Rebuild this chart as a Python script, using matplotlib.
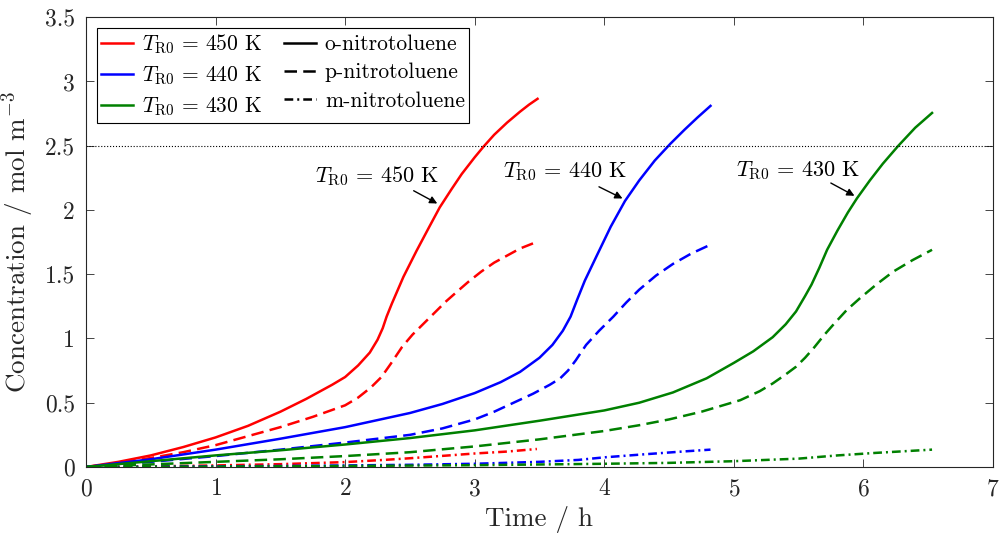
import matplotlib
matplotlib.use('Agg')
import matplotlib.pyplot as plt
from matplotlib.lines import Line2D

# time [h] and concentrations [mol m^-3]
# T_R0 = 450 K
t450_o = [0, 0.25, 0.5, 0.75, 1.0, 1.25, 1.5, 1.7, 1.9, 2.0, 2.1, 2.19, 2.25, 2.29, 2.32, 2.36, 2.45, 2.55, 2.65,
		  2.73, 2.82, 2.9, 3.0, 3.07, 3.15, 3.25, 3.35, 3.42, 3.485]
c450_o = [0, 0.04, 0.09, 0.155, 0.23, 0.32, 0.43, 0.53, 0.64, 0.70, 0.79, 0.89, 0.99, 1.08, 1.17, 1.27, 1.48, 1.68, 1.87,
		  2.02, 2.16, 2.28, 2.41, 2.495, 2.585, 2.68, 2.765, 2.82, 2.865]
t450_p = [0, 0.25, 0.5, 0.75, 1.0, 1.25, 1.5, 1.75, 2.0, 2.1, 2.2, 2.28, 2.35, 2.44, 2.52, 2.6, 2.7, 2.78,
		  2.87, 2.95, 3.05, 3.15, 3.25, 3.35, 3.45]
c450_p = [0, 0.03, 0.07, 0.115, 0.17, 0.24, 0.31, 0.39, 0.48, 0.54, 0.62, 0.70, 0.80, 0.935, 1.03, 1.11, 1.21, 1.29,
		  1.37, 1.44, 1.52, 1.59, 1.645, 1.70, 1.74]
t450_m = [0, 0.5, 1.0, 1.5, 2.0, 2.3, 2.5, 2.8, 3.0, 3.25, 3.48]
c450_m = [0, 0.005, 0.012, 0.022, 0.038, 0.055, 0.068, 0.09, 0.105, 0.12, 0.14]

# T_R0 = 440 K
t440_o = [0, 0.5, 1.0, 1.5, 2.0, 2.5, 2.75, 3.0, 3.2, 3.35, 3.5, 3.6, 3.68, 3.74, 3.79, 3.85, 3.94, 4.05,
		  4.16, 4.27, 4.39, 4.51, 4.62, 4.72, 4.82]
c440_o = [0, 0.06, 0.135, 0.22, 0.31, 0.42, 0.49, 0.575, 0.66, 0.74, 0.85, 0.95, 1.06, 1.17, 1.30, 1.45, 1.64, 1.87,
		  2.07, 2.23, 2.385, 2.515, 2.625, 2.72, 2.81]
t440_p = [0, 0.5, 1.0, 1.5, 2.0, 2.5, 2.75, 3.0, 3.15, 3.3, 3.45, 3.58, 3.66, 3.72, 3.78, 3.86, 3.96, 4.07,
		  4.17, 4.27, 4.4, 4.53, 4.67, 4.82]
c440_p = [0, 0.04, 0.085, 0.135, 0.19, 0.25, 0.30, 0.37, 0.43, 0.50, 0.57, 0.64, 0.69, 0.75, 0.83, 0.95, 1.06, 1.17,
		  1.28, 1.38, 1.49, 1.58, 1.66, 1.73]
t440_m = [0, 0.5, 1.0, 1.5, 2.0, 2.5, 3.0, 3.5, 3.8, 4.0, 4.3, 4.6, 4.82]
c440_m = [0, 0.002, 0.005, 0.008, 0.012, 0.017, 0.025, 0.04, 0.055, 0.075, 0.098, 0.12, 0.135]

# T_R0 = 430 K
t430_o = [0, 0.5, 1.0, 1.5, 2.0, 2.5, 3.0, 3.5, 4.0, 4.27, 4.53, 4.79, 5.0, 5.15, 5.3, 5.4, 5.48, 5.55,
		  5.6, 5.66, 5.72, 5.8, 5.88, 5.95, 6.05, 6.15, 6.27, 6.4, 6.53]
c430_o = [0, 0.045, 0.09, 0.13, 0.175, 0.225, 0.285, 0.36, 0.44, 0.50, 0.58, 0.69, 0.81, 0.90, 1.01, 1.11, 1.21, 1.33,
		  1.42, 1.55, 1.69, 1.84, 1.98, 2.09, 2.23, 2.36, 2.50, 2.64, 2.755]
t430_p = [0, 0.5, 1.0, 1.5, 2.0, 2.5, 3.0, 3.5, 4.0, 4.27, 4.5, 4.75, 5.05, 5.2, 5.3, 5.4, 5.48, 5.55,
		  5.62, 5.7, 5.77, 5.87, 5.97, 6.1, 6.23, 6.38, 6.53]
c430_p = [0, 0.02, 0.04, 0.06, 0.085, 0.115, 0.16, 0.215, 0.28, 0.325, 0.37, 0.43, 0.52, 0.59, 0.65, 0.72, 0.78, 0.85,
		  0.93, 1.03, 1.11, 1.22, 1.31, 1.42, 1.52, 1.61, 1.69]
t430_m = [0, 1.0, 2.0, 3.0, 4.0, 4.5, 5.0, 5.5, 5.8, 6.1, 6.53]
c430_m = [0, 0.003, 0.008, 0.014, 0.025, 0.032, 0.045, 0.065, 0.09, 0.11, 0.135]

temps = ['450', '440', '430']
colors = ['#ff0000', '#0000ff', '#008000']
limit = 2.5

# annotation: text centre, arrow tail, arrow head (data coords)
notes = [
	(2.25, 2.26, 2.51, 2.16, 2.73, 2.04),
	(3.70, 2.30, 3.94, 2.19, 4.16, 2.08),
	(5.50, 2.31, 5.73, 2.22, 5.95, 2.10),
]

DASH = (0, (5, 2.5))
DASHDOT = (0, (3.5, 1.6, 0.8, 1.6))
LW = 1.8


def tlabel(temp):
	return r'$T_{\mathrm{R0}}\,=\,%s$ K' % temp


def main():
	plt.rcParams['font.family'] = ['cmr10', 'DejaVu Serif']
	plt.rcParams['mathtext.fontset'] = 'cm'
	plt.rcParams['axes.formatter.use_mathtext'] = True

	fig = plt.figure(figsize=(10.05, 5.38), dpi=100)
	ax = fig.add_axes([0.0856, 0.132, 0.9024, 0.836])

	series = [
		(t450_o, c450_o, t450_p, c450_p, t450_m, c450_m),
		(t440_o, c440_o, t440_p, c440_p, t440_m, c440_m),
		(t430_o, c430_o, t430_p, c430_p, t430_m, c430_m),
	]
	for (to, co, tp, cp, tm, cm), col in zip(series, colors):
		ax.plot(to, co, color=col, lw=LW, ls='-')
		ax.plot(tp, cp, color=col, lw=LW, ls=DASH)
		ax.plot(tm, cm, color=col, lw=LW, ls=DASHDOT)

	ax.axhline(limit, color='k', lw=0.8, ls=':')

	for temp, (tx, ty, ax0, ay0, ax1, ay1) in zip(temps, notes):
		ax.text(tx, ty, tlabel(temp), fontsize=16, ha='center', va='center')
		ax.annotate('', xy=(ax1, ay1), xytext=(ax0, ay0),
					arrowprops=dict(arrowstyle='-|>', color='k', lw=1, mutation_scale=11))

	ax.set_xlim(0, 7)
	ax.set_ylim(0, 3.5)
	ax.set_xticks(range(0, 8))
	ax.set_yticks([0, 0.5, 1, 1.5, 2, 2.5, 3, 3.5])
	ax.set_yticklabels(['0', '0.5', '1', '1.5', '2', '2.5', '3', '3.5'])
	ax.tick_params(direction='in', top=True, right=True, length=6, width=0.6,
				   labelsize=17, colors='#262626', labelcolor='#262626', pad=8)
	for sp in ax.spines.values():
		sp.set_color('#262626')
		sp.set_linewidth(0.8)

	ax.set_xlabel('Time / h', fontsize=19.5, color='#262626', labelpad=4)
	ax.set_ylabel(r'Concentration / mol m$^{-3}$', fontsize=19.5, color='#262626', labelpad=6)

	handles = []
	labels = []
	for temp, col in zip(temps, colors):
		handles.append(Line2D([], [], color=col, lw=LW))
		labels.append(tlabel(temp))
	for ls, name in [('-', 'o-nitrotoluene'), (DASH, 'p-nitrotoluene'), (DASHDOT, 'm-nitrotoluene')]:
		handles.append(Line2D([], [], color='k', lw=LW, ls=ls))
		labels.append(name)
	leg = ax.legend(handles, labels, ncol=2, loc='upper left', fontsize=15.5,
					frameon=True, fancybox=False, edgecolor='k', framealpha=1,
					handlelength=1.5, labelspacing=0.4, columnspacing=1.0,
					borderaxespad=0.5, handletextpad=0.4, borderpad=0.2)
	leg.get_frame().set_linewidth(0.8)

	fig.savefig('out.png', dpi=100)


if __name__ == '__main__':
	main()
